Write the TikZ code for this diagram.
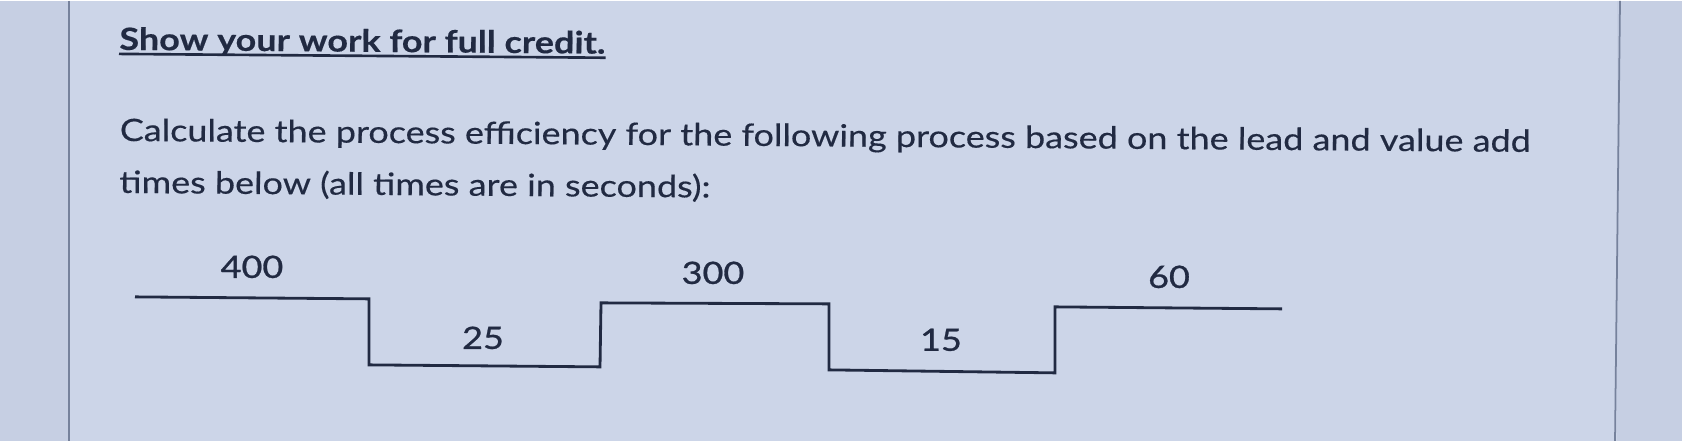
\documentclass[tikz,border=0pt]{standalone}
\usepackage{fontspec}
\usepackage{xcolor}
\setmainfont[FakeStretch=1.17,FakeBold=0.35]{Lato}
\newfontfamily\numfont[FakeStretch=1.17,FakeBold=0.9]{Lato}

\definecolor{screen}{RGB}{204,213,232}
\definecolor{margin}{RGB}{198,207,227}
\definecolor{ink}{RGB}{33,42,66}
\definecolor{rule}{RGB}{118,130,156}

\tikzset{
  txt/.style={anchor=base west,inner sep=0pt,text=ink,rotate=-0.45},
  val/.style={inner sep=0pt,text=ink,font=\numfont\fontsize{17.5}{21}\selectfont},
  stepline/.style={draw=ink,line width=1.6pt,line join=miter}
}

\begin{document}
\begin{tikzpicture}[x=0.02cm,y=-0.02cm]

% screen and panel edges
\fill[margin] (0,0) rectangle (1682,440);
\fill[screen] (69,0) rectangle (1617,440);
\draw[rule,line width=1pt] (69,0) -- (69,440);
\draw[rule,line width=1pt] (1620,0) -- (1615,440);

% question text
\node[txt,font=\bfseries\fontsize{17.5}{21}\selectfont] (title) at (119,49) {Show your work for full credit.};
\draw[ink,line width=1.5pt] ([yshift=-2.3pt]title.base west) -- ([yshift=-2.3pt]title.base east);
\node[txt,align=left,font=\fontsize{17.5}{29.6}\selectfont] (task) at (119,192)
  {Calculate the process efficiency for the following process based on the lead and value add\\
   times below (all times are in seconds):};

% lead and value add times
\draw[stepline] (135,296) -- (369,298) -- (369,364) -- (600,366) -- (601,302) -- (829,303)
  -- (829,369) -- (1055,372) -- (1055,306) -- (1282,308);

\node[val] (t400) at (252,266) {400};
\node[val] (t25) at (483,337) {25};
\node[val] (t300) at (713,272) {300};
\node[val] (t15) at (941,339) {15};
\node[val] (t60) at (1169,276) {60};

\end{tikzpicture}
\end{document}
